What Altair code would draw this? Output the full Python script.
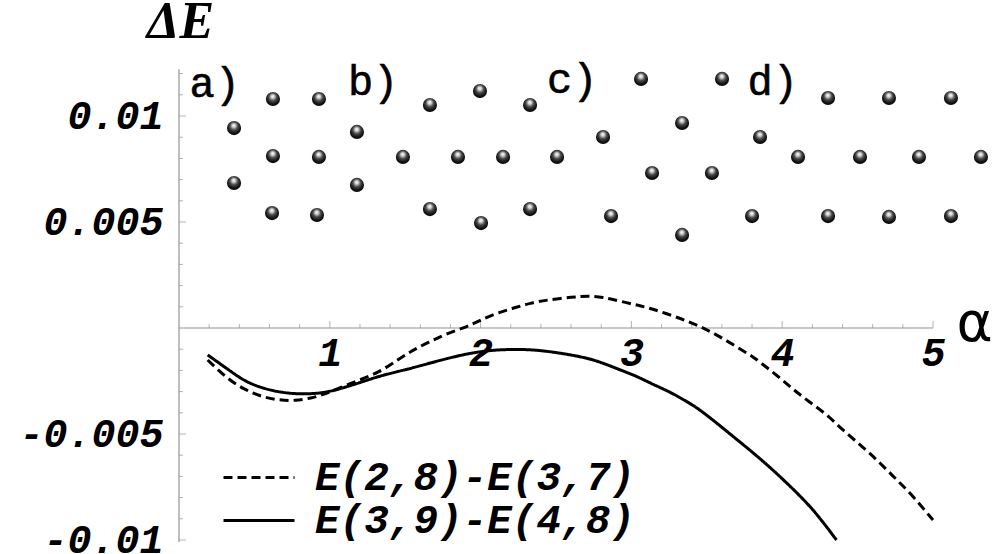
import altair as alt
import pandas as pd

W, H = 994, 554

# ---------------------------------------------------------------- curves
series_names = ["E(2,8)-E(3,7)", "E(3,9)-E(4,8)"]

alpha_28_37 = [0.19, 0.33, 0.44, 0.55, 0.66, 0.77, 0.88, 0.95, 1.03, 1.18,
               1.33, 1.45, 1.55, 1.66, 1.78, 1.91, 2.00, 2.11, 2.22, 2.33,
               2.44, 2.61, 2.71, 2.81, 2.92, 3.04, 3.14, 3.26, 3.37, 3.48,
               3.59, 3.70, 3.81, 3.85, 3.97, 4.07, 4.18, 4.30, 4.40, 4.52,
               4.63, 4.74, 4.85, 5.00]
de_28_37 = [-0.00151, -0.00245, -0.00292, -0.00325, -0.00340, -0.00344,
            -0.00330, -0.00316, -0.00292, -0.00250, -0.00208, -0.00151,
            -0.00104, -0.00066, -0.00024, 0.00005, 0.00038, 0.00071,
            0.00094, 0.00118, 0.00132, 0.00146, 0.00151, 0.00146, 0.00127,
            0.00108, 0.00090, 0.00061, 0.00033, 0.00000, -0.00042,
            -0.00090, -0.00137, -0.00160, -0.00226, -0.00288, -0.00349,
            -0.00410, -0.00481, -0.00552, -0.00623, -0.00703, -0.00778,
            -0.00906]

alpha_39_48 = [0.19, 0.33, 0.44, 0.55, 0.66, 0.77, 0.88, 0.99, 1.10, 1.21,
               1.35, 1.55, 1.78, 2.00, 2.21, 2.39, 2.57, 2.71, 2.81, 2.92,
               3.04, 3.14, 3.26, 3.37, 3.46, 3.67, 3.90, 4.12, 4.23, 4.36]
de_39_48 = [-0.00127, -0.00198, -0.00253, -0.00283, -0.00302, -0.00311,
            -0.00311, -0.00302, -0.00280, -0.00255, -0.00222, -0.00189,
            -0.00142, -0.00108, -0.00099, -0.00104, -0.00123, -0.00142,
            -0.00165, -0.00196, -0.00229, -0.00265, -0.00303, -0.00348,
            -0.00387, -0.00509, -0.00642, -0.00792, -0.00877, -0.01000]

# ------------------------------------------- particle configurations a)-d)
sphere_alpha = [
    # a)
    0.623, 0.928, 0.365, 0.623, 0.928, 0.365, 0.617, 0.915,
    # b)
    1.180, 1.180, 1.664, 1.485, 1.664, 1.996, 1.850, 2.003, 2.328, 2.149,
    2.328, 2.507,
    # c)
    3.064, 2.812, 3.137, 2.865, 3.336, 3.534, 3.336, 3.601,
    # d)
    3.853, 3.800, 4.105, 4.304, 4.304, 4.516, 4.708, 4.708, 4.907, 5.119,
    5.119, 5.318,
]
sphere_de = [
    0.01080, 0.01080, 0.00943, 0.00811, 0.00807, 0.00684, 0.00542, 0.00533,
    0.00925, 0.00675, 0.01052, 0.00807, 0.00561, 0.01118, 0.00807, 0.00495,
    0.01052, 0.00807, 0.00561, 0.00807,
    0.01175, 0.00901, 0.00731, 0.00528, 0.00967, 0.00731, 0.00439, 0.01175,
    0.00901, 0.00528, 0.00807, 0.01085, 0.00528, 0.00807, 0.01085, 0.00524,
    0.00807, 0.01085, 0.00528, 0.00807,
]

panel_text = ["a)", "b)", "c)", "d)"]
panel_alpha = [0.07, 1.12, 2.44, 3.77]
panel_de = [0.0109, 0.0110, 0.0111, 0.0110]

# ------------------------------------------------------------------- axes
x_label_values = [1, 2, 3, 4, 5]
y_label_values = [-0.01, -0.005, 0.005, 0.01]
x_minor_ticks = [round(0.2 * i, 1) for i in range(1, 26) if i % 5]
x_major_ticks = [1, 2, 3, 4, 5]
y_minor_ticks = [round(0.001 * i, 3) for i in range(-10, 13) if i % 5]
y_major_ticks = [-0.01, -0.005, 0.005, 0.01]
x_axis_span = [0, 5]
y_axis_span = [-0.0101, 0.0122]

# placement of the data origin inside the view
X0, PX_PER_X = 179, 150.8
Y0, PX_PER_Y = 328, 21200

MONO = "Liberation Mono"
AXIS_GRAY = "#939393"

x_scale = alt.Scale(domain=[-X0 / PX_PER_X, (W - X0) / PX_PER_X], nice=False, zero=False)
y_scale = alt.Scale(domain=[-(H - Y0) / PX_PER_Y, Y0 / PX_PER_Y], nice=False, zero=False)

x_axis = alt.Axis(
    values=x_label_values, domain=False, ticks=False, tickSize=0, grid=False,
    labelFont=MONO, labelFontSize=40, labelFontStyle="italic", labelFontWeight="bold",
    labelColor="black", labelPadding=5, labelFlush=False, labelOverlap=False,
    labelBound=False, offset=-(H - Y0),
    title="α", titleFont="DejaVu Sans", titleFontSize=55, titleFontWeight="normal",
    titleColor="black", titleX=974, titleY=12, titleAlign="center",
    titleBaseline="alphabetic", titleAngle=0,
)
y_axis = alt.Axis(
    values=y_label_values, domain=False, ticks=False, tickSize=0, grid=False,
    format=".3~f", labelExpr="replace(datum.label, '−', '-')",
    labelFont=MONO, labelFontSize=40, labelFontStyle="italic", labelFontWeight="bold",
    labelColor="black", labelPadding=16, labelFlush=False, labelOverlap=False,
    labelBound=False, offset=-X0,
    title="ΔE", titleFont="Liberation Serif", titleFontSize=52, titleFontWeight="bold",
    titleFontStyle="italic", titleColor="black", titleX=1, titleY=37,
    titleAlign="center", titleBaseline="alphabetic", titleAngle=0,
)


def X(field):
    return alt.X(field, scale=x_scale, axis=x_axis)


def Y(field):
    return alt.Y(field, scale=y_scale, axis=y_axis)


curves = pd.concat([
    pd.DataFrame({"a": alpha_28_37, "e": de_28_37, "series": series_names[0]}),
    pd.DataFrame({"a": alpha_39_48, "e": de_39_48, "series": series_names[1]}),
])

lines = alt.Chart(curves).mark_line(color="black", strokeWidth=3, interpolate="basis").encode(
    x=X("a:Q"),
    y=Y("e:Q"),
    strokeDash=alt.StrokeDash(
        "series:N",
        scale=alt.Scale(domain=series_names, range=[[9, 5], [1, 0]]),
        legend=alt.Legend(
            orient="none", legendX=222, legendY=456, title=None, padding=0,
            direction="vertical", symbolType="stroke", symbolSize=5041,
            symbolStrokeWidth=3, symbolStrokeColor="black", clipHeight=43,
            rowPadding=0, labelOffset=19, labelLimit=0, labelFont=MONO,
            labelFontSize=41, labelFontStyle="italic", labelFontWeight="bold",
            labelColor="black", labelBaseline="middle",
        ),
    ),
    order="a:Q",
)

x_line = alt.Chart(pd.DataFrame({"a": [x_axis_span[0]], "a2": [x_axis_span[1]], "e": [0]})).mark_rule(
    color=AXIS_GRAY, strokeWidth=1.2
).encode(x=X("a:Q"), x2="a2:Q", y=Y("e:Q"))

y_line = alt.Chart(pd.DataFrame({"a": [0], "e": [y_axis_span[0]], "e2": [y_axis_span[1]]})).mark_rule(
    color=AXIS_GRAY, strokeWidth=1.2
).encode(x=X("a:Q"), y=Y("e:Q"), y2="e2:Q")


def x_ticks(values, length):
    return alt.Chart(pd.DataFrame({"a": values, "e": [0] * len(values)})).mark_tick(
        orient="vertical", size=length, thickness=1, color=AXIS_GRAY, yOffset=-length / 2
    ).encode(x=X("a:Q"), y=Y("e:Q"))


def y_ticks(values, length):
    return alt.Chart(pd.DataFrame({"a": [0] * len(values), "e": values})).mark_tick(
        orient="horizontal", size=length, thickness=1, color=AXIS_GRAY, xOffset=length / 2
    ).encode(x=X("a:Q"), y=Y("e:Q"))


# shaded metallic ball: bright highlight near the top, dark rim
sphere_fill = alt.RadialGradient(
    gradient="radial",
    stops=[
        alt.GradientStop(offset=0, color="#ffffff"),
        alt.GradientStop(offset=0.18, color="#d8d8d8"),
        alt.GradientStop(offset=0.45, color="#4a4a4a"),
        alt.GradientStop(offset=0.75, color="#141414"),
        alt.GradientStop(offset=1, color="#000000"),
    ],
    x1=0.48, y1=0.3, r1=0.0, x2=0.5, y2=0.42, r2=0.62,
)

spheres = alt.Chart(pd.DataFrame({"a": sphere_alpha, "e": sphere_de})).mark_point(
    filled=True, shape="circle", size=200, fill=sphere_fill, opacity=1, strokeWidth=0
).encode(x=X("a:Q"), y=Y("e:Q"))

panels = alt.Chart(pd.DataFrame({"a": panel_alpha, "e": panel_de, "t": panel_text})).mark_text(
    font=MONO, fontSize=42, align="left", baseline="alphabetic", color="black",
    stroke="black", strokeWidth=0.6,
).encode(x=X("a:Q"), y=Y("e:Q"), text="t:N")

chart = alt.layer(
    x_line, y_line,
    x_ticks(x_minor_ticks, 4), x_ticks(x_major_ticks, 7),
    y_ticks(y_minor_ticks, 4), y_ticks(y_major_ticks, 7),
    lines, spheres, panels,
).properties(
    width=W, height=H, padding=0, autosize=alt.AutoSizeParams(type="none"),
    background="white",
).configure_view(stroke=None)

chart.save("out.html", embed_options={"renderer": "svg", "actions": False})
